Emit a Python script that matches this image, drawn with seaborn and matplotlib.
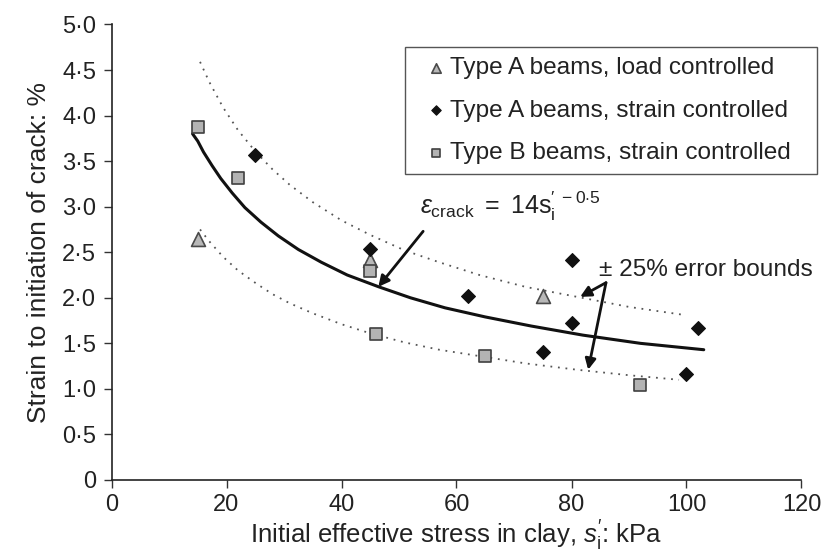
import matplotlib
matplotlib.use("Agg")
import matplotlib.pyplot as plt
from matplotlib.patches import Rectangle
import seaborn as sns

# ---- data ----
load_a_x = [15, 45, 75]
load_a_y = [2.65, 2.42, 2.02]

strain_a_x = [25, 45, 62, 75, 80, 80, 100, 102]
strain_a_y = [3.57, 2.54, 2.02, 1.41, 2.42, 1.72, 1.16, 1.67]

strain_b_x = [15, 22, 45, 46, 65, 92]
strain_b_y = [3.87, 3.32, 2.29, 1.60, 1.36, 1.04]

fit_x = [14.1, 15, 16, 17.5, 19, 21, 23.2, 26, 29, 32.5, 36.5, 41, 46.5,
         52, 58, 65, 73, 82, 92, 103]
fit_y = [3.80, 3.72, 3.60, 3.45, 3.31, 3.15, 2.99, 2.83, 2.68, 2.53, 2.39,
         2.25, 2.12, 2.00, 1.89, 1.79, 1.69, 1.59, 1.50, 1.43]

upper_x = [15.4, 17, 19.4, 22, 25.1, 28, 31, 35, 40, 45, 51, 57, 64, 72,
           81, 90, 99.8]
upper_y = [4.59, 4.37, 4.09, 3.84, 3.60, 3.41, 3.24, 3.05, 2.85, 2.69,
           2.52, 2.39, 2.25, 2.12, 2.01, 1.90, 1.81]

lower_x = [15.4, 17, 19.4, 22, 25.1, 28, 31, 35, 40, 45, 51, 57, 64, 72,
           81, 90, 98.7]
lower_y = [2.75, 2.62, 2.45, 2.30, 2.16, 2.04, 1.94, 1.83, 1.71, 1.61,
           1.51, 1.43, 1.36, 1.28, 1.21, 1.15, 1.10]

x_ticks = [0, 20, 40, 60, 80, 100, 120]
y_ticks = [0, 0.5, 1.0, 1.5, 2.0, 2.5, 3.0, 3.5, 4.0, 4.5, 5.0]
y_tick_labels = ["0", "0·5", "1·0", "1·5", "2·0", "2·5", "3·0", "3·5",
                 "4·0", "4·5", "5·0"]

legend_labels = ["Type A beams, load controlled",
                 "Type A beams, strain controlled",
                 "Type B beams, strain controlled"]

# ---- style ----
sns.set_theme(style="ticks")
plt.rcParams["font.family"] = ["Liberation Sans", "DejaVu Sans"]
plt.rcParams["mathtext.fontset"] = "custom"
plt.rcParams["mathtext.rm"] = "Liberation Sans"
plt.rcParams["mathtext.it"] = "Liberation Sans:italic"
plt.rcParams["mathtext.bf"] = "Liberation Sans:bold"

W, H = 824, 555
fig = plt.figure(figsize=(W / 100, H / 100), dpi=100)
ax = fig.add_axes([111.5 / W, 1 - 480 / H, 690 / W, 455.5 / H])

dot = (0, (1, 3.2))
sns.lineplot(x=upper_x, y=upper_y, ax=ax, color="#555555", lw=1.3,
             linestyle=dot, sort=False, legend=False)
sns.lineplot(x=lower_x, y=lower_y, ax=ax, color="#555555", lw=1.3,
             linestyle=dot, sort=False, legend=False)
sns.lineplot(x=fit_x, y=fit_y, ax=ax, color="#111111", lw=2.2,
             sort=False, legend=False)

sns.scatterplot(x=load_a_x, y=load_a_y, ax=ax, marker="^", s=100,
                color="#b8b8b8", edgecolor="#4a4a4a", linewidth=1.2,
                label=legend_labels[0], zorder=5)
sns.scatterplot(x=strain_a_x, y=strain_a_y, ax=ax, marker="D", s=50,
                color="#111111", edgecolor="#111111", linewidth=0.8,
                label=legend_labels[1], zorder=5)
sns.scatterplot(x=strain_b_x, y=strain_b_y, ax=ax, marker="s", s=64,
                color="#b3b3b3", edgecolor="#404040", linewidth=1.2,
                label=legend_labels[2], zorder=5)

ax.set_xlim(0, 120)
ax.set_ylim(0, 5.0)
ax.set_xticks(x_ticks)
ax.set_xticklabels([str(v) for v in x_ticks])
ax.set_yticks(y_ticks)
ax.set_yticklabels(y_tick_labels)
ax.tick_params(axis="both", direction="out", length=6, width=1,
               color="#333333", labelsize=17, labelcolor="#222222")
ax.tick_params(axis="y", pad=5)
ax.tick_params(axis="x", pad=4)
for side in ["top", "right"]:
    ax.spines[side].set_visible(False)
for side in ["left", "bottom"]:
    ax.spines[side].set_color("#222222")
    ax.spines[side].set_linewidth(1.2)

ax.set_xlabel(r"Initial effective stress in clay, $s^{\prime}_{\mathrm{i}}$: kPa",
              fontsize=18.5, color="#222222", labelpad=2)
ax.set_ylabel("Strain to initiation of crack: %", fontsize=19,
              color="#222222", labelpad=8)

# legend (content without frame) + frame drawn as a rectangle
leg = ax.legend(loc="upper left", bbox_to_anchor=(424 / W, 1 - 57 / H),
                bbox_transform=fig.transFigure, fontsize=17.6, frameon=False,
                handletextpad=0.08, handlelength=1.0, labelspacing=0.84,
                borderpad=0, markerscale=0.68, borderaxespad=0)
for t in leg.get_texts():
    t.set_color("#222222")
fig.add_artist(Rectangle((405 / W, 1 - 174 / H), 412 / W, 127 / H,
                         transform=fig.transFigure, fill=False,
                         edgecolor="#555555", lw=1.0, zorder=3))

# annotations
ax.text(53.7, 2.92,
        r"$\varepsilon_{\mathrm{crack}}\ =\ \mathrm{14s}_{\mathrm{i}}^{\prime\ -0{\cdot}5}$",
        fontsize=18, color="#222222", ha="left", va="baseline")
arrow = dict(arrowstyle="-|>", lw=2.0, color="#111111",
             mutation_scale=16, shrinkA=0, shrinkB=0)
ax.annotate("", xy=(46.4, 2.12), xytext=(54.2, 2.73), arrowprops=arrow)
ax.text(84.8, 2.305, "± 25% error bounds", fontsize=17.6, color="#222222",
        ha="left", va="center")
for end in [(81.5, 2.01), (82.9, 1.21)]:
    ax.annotate("", xy=end, xytext=(86.0, 2.166), arrowprops=arrow)

fig.savefig("out.png", dpi=100)
